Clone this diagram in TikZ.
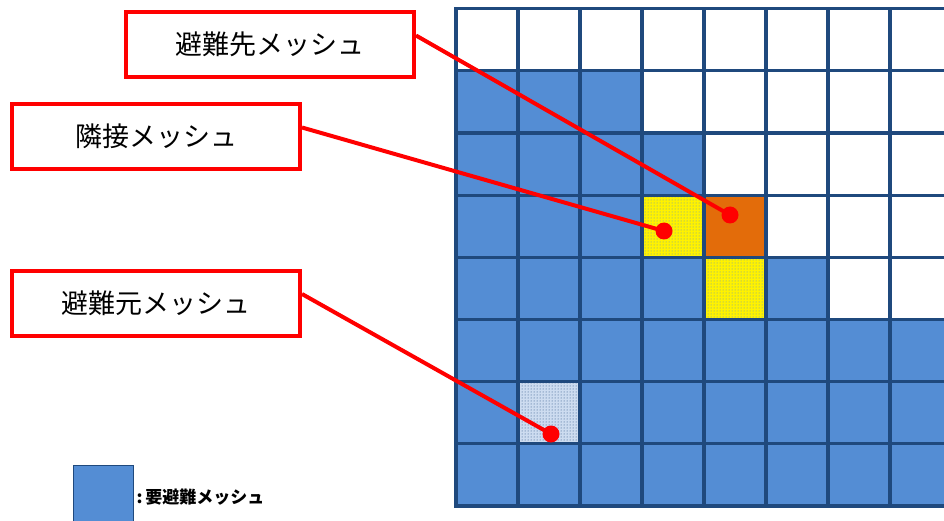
\documentclass[tikz,border=0pt]{standalone}
\usepackage{fontspec}
\newfontfamily\jpfont{Noto Sans CJK JP}
\usetikzlibrary{patterns}
\definecolor{meshblue}{RGB}{84,141,212}
\definecolor{gridblue}{RGB}{31,73,125}
\definecolor{destorange}{RGB}{227,108,10}
\definecolor{lightmesh}{RGB}{205,220,240}
\tikzset{
 labelbox/.style={draw=red, line width=4pt, fill=white, minimum width=288pt, minimum height=65pt, inner sep=0pt, font=\jpfont\fontsize{27}{32}\selectfont},
 leader/.style={draw=red, line width=4pt},
 dotmark/.style={circle, fill=red, minimum size=17pt, inner sep=0pt},
 gridline/.style={draw=gridblue, line width=3.2pt, line cap=rect},
 nearcell/.style={fill=yellow, postaction={pattern=dots, pattern color=meshblue}},
 srccell/.style={fill=lightmesh, postaction={pattern=dots, pattern color=gridblue}},
}
\begin{document}
\begin{tikzpicture}[x=1pt,y=-1pt]
\useasboundingbox (0,0) rectangle (944,521);
\def\gx{456}\def\gy{8.7}\def\cw{62.0}\def\ch{62.16}
% blue region
\fill[meshblue] (\gx,{\gy+\ch}) rectangle (960,{\gy+8*\ch});
% white cells
\fill[white] ({\gx+3*\cw},{\gy+1*\ch}) rectangle (960,{\gy+2*\ch});
\fill[white] ({\gx+4*\cw},{\gy+2*\ch}) rectangle (960,{\gy+3*\ch});
\fill[white] ({\gx+5*\cw},{\gy+3*\ch}) rectangle (960,{\gy+4*\ch});
\fill[white] ({\gx+6*\cw},{\gy+4*\ch}) rectangle (960,{\gy+5*\ch});
% special cells
\path[nearcell] ({\gx+3*\cw},{\gy+3*\ch}) rectangle ++(\cw,\ch);
\path[nearcell] ({\gx+4*\cw},{\gy+4*\ch}) rectangle ++(\cw,\ch);
\fill[destorange] ({\gx+4*\cw},{\gy+3*\ch}) rectangle ++(\cw,\ch);
\path[srccell] ({\gx+1*\cw},{\gy+6*\ch}) rectangle ++(\cw,\ch);
% grid lines
\foreach \k in {0,...,8} {
  \draw[gridline] ({\gx+\k*\cw},\gy) -- ({\gx+\k*\cw},{\gy+8*\ch});
  \draw[gridline] (\gx,{\gy+\k*\ch}) -- ({\gx+8*\cw},{\gy+\k*\ch});
}
% label boxes
\node[labelbox] (b1) at (270,44.5) {避難先メッシュ};
\node[labelbox] (b2) at (156,136.5) {隣接メッシュ};
\node[labelbox] (b3) at (156,303) {避難元メッシュ};
% dots
\node[dotmark] (d1) at (730,215) {};
\node[dotmark] (d2) at (664,231) {};
\node[dotmark] (d3) at (551,434) {};
% leaders
\draw[leader] ([yshift=9pt]b1.east) -- (d1.center);
\draw[leader] ([yshift=9pt]b2.east) -- (d2.center);
\draw[leader] ([yshift=9pt]b3.east) -- (d3.center);
% legend
\node[draw=gridblue, line width=1pt, fill=meshblue, minimum width=60pt, minimum height=64pt, inner sep=0pt] (lg) at (103,497) {};
\node[anchor=west, inner sep=0pt, font=\jpfont\bfseries\fontsize{17}{20}\selectfont] (lt) at ([xshift=3pt]lg.east) {:\,要避難メッシュ};
\end{tikzpicture}
\end{document}
